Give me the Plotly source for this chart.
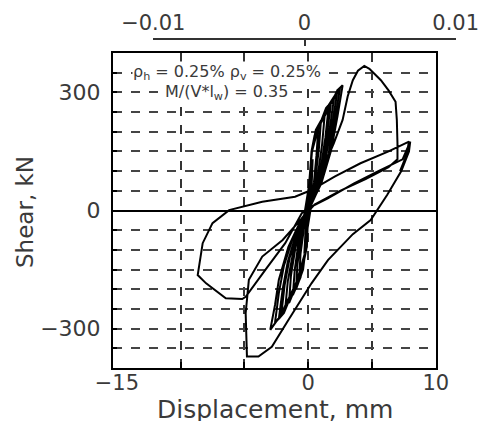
import plotly.graph_objects as go

# ---- data ----
# small (nearly elastic) cycles, then the large cycles
disp_mm = [
    0.0,
    0.1, 0.22, 0.35, 0.28, 0.12, 0.0, -0.12, -0.3, -0.22, -0.08, 0.0,
    0.1, 0.26, 0.5, 0.8, 0.65, 0.45, 0.2, 0.0, -0.05, -0.25, -0.7, -0.6, -0.35, -0.1, 0.0,
    0.1, 0.26, 0.6, 1.0, 0.85, 0.6, 0.3, 0.05, -0.1, -0.4, -0.95, -0.85, -0.6, -0.25, 0.0,
    0.1, 0.26, 0.7, 1.3, 1.1, 0.8, 0.4, 0.1, -0.05, -0.15, -0.6, -1.2, -1.05, -0.75, -0.3, 0.0,
    0.1, 0.27, 0.72, 1.6, 1.35, 1.0, 0.5, 0.1, -0.05, -0.15, -0.7, -1.5, -1.35, -1.0, -0.45, 0.0,
    0.1, 0.28, 0.75, 1.4, 1.8, 1.5, 1.1, 0.6, 0.15, -0.05, -0.15, -0.8, -1.8, -1.6, -1.2, -0.6, -0.1,
    0.1, 0.28, 0.78, 1.5, 2.05, 1.7, 1.25, 0.7, 0.15, -0.05, -0.16, -0.82, -2.1, -1.85, -1.45, -0.8, -0.1,
    0.1, 0.3, 0.8, 1.55, 2.3, 1.9, 1.4, 0.8, 0.2, -0.05, -0.18, -0.85, -1.9, -2.3, -2.0, -1.6, -0.9, -0.2,
    0.1, 0.28, 0.75, 1.55, 2.5, 2.1, 1.6, 0.95, 0.25, -0.05, -0.15, -0.85, -1.95, -2.6, -2.3, -1.9, -1.2, -0.3,
    0.1, 0.26, 0.7, 1.55, 2.3, 2.7, 2.3, 1.8, 1.03, 0.26, 0.0, -0.1, -0.8, -1.8, -2.97, -2.6, -2.3, -1.55, -0.5, 0.0,
    0.3, 1.2, 2.0, 2.7, 3.1, 3.5, 3.9, 4.4, 4.8, 5.7, 6.3, 6.85, 6.95, 7.0, 7.0,
    6.3, 4.5, 2.5, 0.5,
    -0.5, -2.0, -3.6, -4.65, -4.9, -4.85, -4.8, -3.9, -2.85, -1.55, 0.26, 1.55,
    3.5, 4.9, 6.2, 7.3, 7.9, 8.0,
    7.4, 5.5, 3.6, 1.5, 0.26,
    -0.5, -1.8, -3.36, -4.9, -5.17, -6.46, -8.0, -8.66, -8.27, -7.5, -6.2, -3.6,
    -1.03, 0.26, 2.07, 4.1, 6.3, 7.9, 7.7, 7.2,
]
shear_kN = [
    0,
    60, 100, 130, 70, 15, 0, -50, -110, -60, -10, 0,
    70, 150, 190, 210, 140, 70, 20, 0, -40, -110, -170, -110, -50, -5, 0,
    70, 150, 205, 228, 160, 90, 30, 0, -70, -150, -200, -140, -75, -15, 0,
    70, 150, 200, 245, 170, 100, 40, 5, -45, -100, -170, -215, -150, -80, -20, 0,
    70, 150, 205, 262, 185, 110, 45, 5, -45, -100, -172, -235, -165, -95, -30, 0,
    70, 150, 205, 260, 275, 200, 120, 50, 10, -45, -100, -176, -250, -180, -110, -40, 0,
    70, 150, 207, 262, 290, 210, 130, 55, 10, -45, -100, -176, -262, -190, -120, -50, 0,
    70, 150, 210, 255, 306, 220, 140, 60, 15, -45, -100, -176, -260, -275, -200, -130, -55, -5,
    70, 150, 208, 258, 312, 230, 145, 65, 15, -45, -100, -176, -262, -285, -210, -140, -70, -10,
    70, 150, 210, 255, 306, 318, 240, 153, 69, 19, 0, -92, -176, -250, -303, -240, -176, -92, -20, 0,
    30, 110, 170, 230, 290, 331, 355, 367, 360, 331, 305, 276, 230, 170, 130,
    110, 80, 50, 15,
    -20, -75, -117, -176, -261, -330, -371, -371, -346, -278, -185, -126,
    -60, -24, 40, 100, 150, 175,
    130, 100, 69, 30, 10,
    -7, -83, -151, -219, -225, -223, -185, -164, -83, -32, 1, 22,
    35, 52, 86, 120, 150, 175, 140, 100,
]

x_tick_vals = [-15, 0, 10]
x_tick_text = ["\u221215", "0", "10"]
x_grid_vals = [-10, -5, 0, 5]
y_tick_vals = [-300, 0, 300]
y_tick_text = ["\u2212300", "0", "300"]
y_grid_vals = [-350, -300, -250, -200, -150, -100, -50, 50, 100, 150, 200, 250, 300, 350]
drift_ticks = [-0.01, 0, 0.01]
drift_labels = ["\u22120.01", "0", "0.01"]

x_title = "Displacement, mm"
y_title = "Shear, kN"
note_line1 = "\u03c1<sub>h</sub> = 0.25% \u03c1<sub>v</sub> = 0.25%"
note_line2 = "M/(V*l<sub>w</sub>) = 0.35"

FONT = "DejaVu Sans"
TXT = "#3a3a3a"

fig = go.Figure()
fig.add_trace(go.Scatter(x=disp_mm, y=shear_kN, mode="lines",
                         line=dict(color="black", width=2.0),
                         showlegend=False, hoverinfo="skip"))
# helper trace that registers the drift-ratio (top) axis
fig.add_trace(go.Scatter(x=drift_ticks, y=[None] * len(drift_ticks),
                         xaxis="x2", yaxis="y2", mode="lines",
                         showlegend=False, hoverinfo="skip"))

W, H = 482, 423
ml, mr, mt, mb = 113, 20, 38, 55
pw = W - ml - mr
ph = H - mt - mb
box_right = 436
box_top = 53
box_bottom = H - mb
axis2_y = 40

fig.update_layout(
    width=W, height=H,
    margin=dict(l=ml, r=mr, t=mt, b=mb, autoexpand=False),
    paper_bgcolor="white", plot_bgcolor="white",
    font=dict(family=FONT, color=TXT),
    xaxis=dict(
        domain=[0, (box_right - ml) / pw],
        range=[-15.3, 10.02],
        tickvals=x_tick_vals, ticktext=x_tick_text,
        ticks="", showgrid=False, zeroline=False, automargin=False,
        showline=True, linecolor="black", linewidth=2, mirror=True,
        tickfont=dict(size=21, family=FONT, color=TXT),
        ticklabeloverflow="allow", ticklabelstandoff=-5,
        minor=dict(tickvals=x_grid_vals, showgrid=True, gridcolor="#333",
                   gridwidth=1.6, griddash="dash", ticks="inside",
                   ticklen=6, tickcolor="black", tickwidth=1.5),
        anchor="y",
    ),
    yaxis=dict(
        domain=[0, (box_bottom - box_top) / ph],
        range=[-400, 400],
        tickvals=y_tick_vals, ticktext=y_tick_text,
        ticks="", showgrid=False, automargin=False,
        zeroline=True, zerolinecolor="black", zerolinewidth=2,
        showline=True, linecolor="black", linewidth=2, mirror=True,
        tickfont=dict(size=22, family=FONT, color=TXT),
        ticklabelstandoff=6,
        minor=dict(tickvals=y_grid_vals, showgrid=True, gridcolor="#444",
                   gridwidth=1.5, griddash="dash", ticks="inside",
                   ticklen=4, tickcolor="black", tickwidth=1.5),
        anchor="x",
    ),
    xaxis2=dict(
        domain=[(153 - ml) / pw, (456 - ml) / pw],
        range=[-0.01002, 0.01002],
        tickvals=drift_ticks, ticktext=drift_labels,
        side="top", anchor="y2", automargin=False,
        ticks="inside", ticklen=6, tickwidth=1.5, tickcolor="#333",
        showline=True, linecolor="#333", linewidth=1.5,
        showgrid=False, zeroline=False,
        ticklabeloverflow="allow",
        tickfont=dict(size=21, family=FONT, color=TXT),
    ),
    yaxis2=dict(
        domain=[(box_bottom - 50) / ph, (box_bottom - axis2_y) / ph],
        range=[0, 1], visible=False, anchor="x2",
    ),
)

# axis titles
fig.add_annotation(x=(box_right - ml) / pw / 2, y=(box_bottom - 409) / ph,
                   xref="paper", yref="paper", text=x_title, showarrow=False,
                   xanchor="center", yanchor="middle", height=24,
                   font=dict(size=25, family=FONT, color=TXT))
fig.add_annotation(x=(25 - ml) / pw, y=(box_bottom - 212) / ph,
                   xref="paper", yref="paper", text=y_title, showarrow=False,
                   textangle=-90, xanchor="center", yanchor="middle",
                   font=dict(size=23, family=FONT, color=TXT))

# parameter notes
fig.add_annotation(x=-6.4, y=351, xref="x", yref="y", text=note_line1,
                   showarrow=False, bgcolor="white", borderpad=0,
                   font=dict(size=16, family=FONT, color=TXT))
fig.add_annotation(x=-6.4, y=300, xref="x", yref="y", text=note_line2,
                   showarrow=False, bgcolor="white", borderpad=0,
                   font=dict(size=16, family=FONT, color=TXT))

# remove the page's default body margin so the figure sits at the window's corner
fig.write_html("out.html", config={"displayModeBar": False},
               post_script="document.body.style.margin='0';")
